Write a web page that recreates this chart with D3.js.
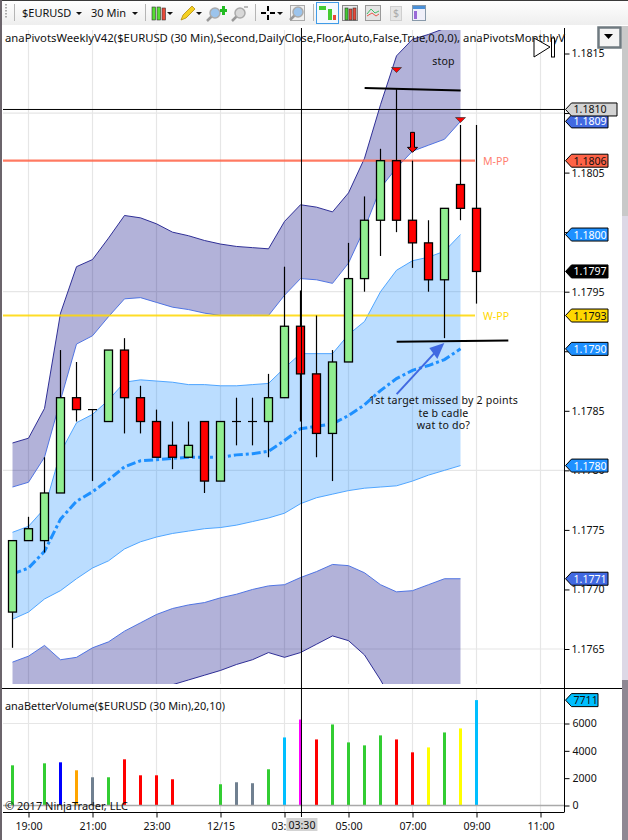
<!DOCTYPE html>
<html>
<head>
<meta charset="utf-8">
<style>
  body { margin: 0; background: #fff; }
  svg { display: block; }
  text { font-family: "Noto Sans", "Open Sans", sans-serif; font-size: 10.6px; fill: #111; }
</style>
<script src="https://cdn.jsdelivr.net/npm/d3@7"></script>
</head>
<body>
<div id="chart"></div>
<script>
/**
* DATA - one entry per 30 min bar, first bar is 18:30
* */
const opens = [1.17681,1.17741,1.17741,1.17781,1.17861,1.17851,1.17841,1.17901,1.17861,1.17841,1.17821,1.17811,1.17841,1.17791,1.17841,1.17841,1.17841,1.17861,1.17921,1.17881,1.17831,1.17891,1.17961,1.18010,1.18060,1.18010,1.17991,1.17960,1.18040,1.18020];
const highs = [1.17741,1.17761,1.17811,1.17901,1.17891,1.17851,1.17901,1.17911,1.17871,1.17851,1.17841,1.17841,1.17841,1.17841,1.17861,1.17861,1.17881,1.17971,1.17951,1.17930,1.17901,1.17991,1.18030,1.18070,1.18120,1.18060,1.18010,1.18020,1.18090,1.18090];
const lows = [1.17651,1.17741,1.17731,1.17781,1.17841,1.17791,1.17841,1.17831,1.17831,1.17811,1.17801,1.17811,1.17781,1.17791,1.17821,1.17821,1.17811,1.17861,1.17841,1.17811,1.17791,1.17891,1.17950,1.17980,1.18000,1.17970,1.17950,1.17911,1.18010,1.17940];
const closes = [1.17741,1.17751,1.17781,1.17861,1.17851,1.17851,1.17901,1.17861,1.17841,1.17811,1.17811,1.17821,1.17791,1.17841,1.17841,1.17841,1.17861,1.17921,1.17881,1.17831,1.17891,1.17961,1.18010,1.18060,1.18010,1.17991,1.17960,1.18020,1.18020,1.17967];

const upperOuter = [1.17823,1.17827,1.17852,1.17932,1.17971,1.17977,1.17995,1.18014,1.18012,1.18007,1.18000,1.17997,1.17993,1.17990,1.17988,1.17987,1.17986,1.18009,1.18023,1.18021,1.18017,1.18033,1.18062,1.18107,1.18148,1.18162,1.18166,1.18171,1.18174];
const upperInner = [1.17786,1.17790,1.17811,1.17859,1.17906,1.17913,1.17929,1.17944,1.17945,1.17941,1.17937,1.17935,1.17932,1.17930,1.17930,1.17930,1.17930,1.17947,1.17961,1.17960,1.17957,1.17974,1.18003,1.18037,1.18054,1.18068,1.18073,1.18078,1.18093];
const midTop = [1.17748,1.17753,1.17768,1.17815,1.17840,1.17847,1.17859,1.17874,1.17876,1.17875,1.17874,1.17872,1.17872,1.17871,1.17871,1.17872,1.17873,1.17886,1.17898,1.17898,1.17898,1.17914,1.17925,1.17950,1.17968,1.17976,1.17979,1.17984,1.17998];
const midBottom = [1.17675,1.17681,1.17692,1.17699,1.17709,1.17718,1.17724,1.17734,1.17740,1.17744,1.17747,1.17749,1.17751,1.17752,1.17754,1.17757,1.17760,1.17764,1.17772,1.17777,1.17780,1.17783,1.17785,1.17786,1.17787,1.17791,1.17796,1.17800,1.17804];
const midLine = [1.17713,1.17718,1.17732,1.17759,1.17774,1.17782,1.17792,1.17803,1.17808,1.17809,1.17810,1.17811,1.17811,1.17811,1.17813,1.17814,1.17816,1.17825,1.17835,1.17837,1.17839,1.17846,1.17855,1.17867,1.17877,1.17884,1.17888,1.17893,1.17902];
const lowerInner = [1.17639,1.17644,1.17653,1.17641,1.17643,1.17651,1.17656,1.17665,1.17672,1.17679,1.17684,1.17687,1.17689,1.17693,1.17696,1.17700,1.17703,1.17704,1.17710,1.17715,1.17721,1.17720,1.17714,1.17704,1.17698,1.17699,1.17704,1.17709,1.17709];
const lowerOuter = [1.17590,1.17590,1.17590,1.17590,1.17590,1.17595,1.17600,1.17603,1.17606,1.17611,1.17620,1.17624,1.17628,1.17632,1.17637,1.17641,1.17647,1.17643,1.17647,1.17654,1.17661,1.17657,1.17645,1.17624,1.17600,1.17590,1.17590,1.17590,1.17590];

const volumes = [2940,null,3086,3160,2576,2065,2065,3380,2210,2210,1920,null,null,1555,1700,1630,2650,4980,6290,4835,5930,4617,4400,5130,4835,3890,4250,5345,5640,7711];
const volumeKinds = ["green",null,"green","blue","orange","gray","green","red","red","red","red",null,null,"green","gray","gray","green","sky","magenta","red","green","green","green","green","red","red","yellow","green","yellow","sky"];

const timeTickBars = [1,5,9,13,17,21,25,29,33];
const timeTickLabels = ["19:00","21:00","23:00","12/15","03:00","05:00","07:00","09:00","11:00"];
const priceTicks = [1.1765,1.1770,1.1775,1.1780,1.1785,1.1790,1.1795,1.1800,1.1805,1.1810,1.1815];
const priceGrid = [1.1765,1.1780,1.1795,1.1810];
const volumeTicks = [0,2000,4000,6000];

const monthlyPivot = 1.18060, weeklyPivot = 1.17930;
const crossBar = 18.06, crossPrice = 1.18103;

//hand drawn stuff on the chart
const stopLine = [[22.01,1.18121],[28.01,1.18119]];
const targetLine = [[24.01,1.17908],[30.99,1.17909]];
const noteArrow = [[24.01,1.17864],[26.99,1.17907]];
const entryMarks = [[24,1.18134],[28,1.18092]];
const downArrow = [25,1.18067];
const notes = [
  {text:"stop", bar:27, price:1.18140},
  {text:"1st target missed by 2 points", bar:27, price:1.17856},
  {text:"te b cadle", bar:27, price:1.17845},
  {text:"wat to do?", bar:27, price:1.17835}
];

/**
* SCALES
* */
const width = 628, height = 840;
const axisX = 564.5;
const x = d3.scaleLinear().domain([0,34]).range([12.5,556.5]);
const y = d3.scaleLinear().domain([1.1765,1.1815]).range([649,53.5]);
const yVol = d3.scaleLinear().domain([0,6000]).range([805.5,723.5]);
const volumeColor = d3.scaleOrdinal()
  .domain(["green","red","blue","orange","gray","sky","magenta","yellow"])
  .range(["limegreen","red","blue","orange","slategray","deepskyblue","magenta","yellow"]);

const svg = d3.select("#chart").append("svg").attr("width",width).attr("height",height);
const defs = svg.append("defs");
const grad = defs.append("linearGradient").attr("id","bar").attr("x1",0).attr("x2",0).attr("y1",0).attr("y2",1);
grad.append("stop").attr("offset","0").attr("stop-color","#ffffff");
grad.append("stop").attr("offset","1").attr("stop-color","#eeeeee");
defs.append("clipPath").attr("id","panel").append("rect").attr("x",0).attr("y",30).attr("width",width).attr("height",654);

svg.append("rect").attr("width",width).attr("height",height).attr("fill","#fff");

/**
* GRID
* */
const grid = svg.append("g").attr("stroke","#e6e6e6").attr("stroke-width",1.2);
grid.selectAll(".v1").data(timeTickBars).enter().append("line")
  .attr("x1",d=>x(d)).attr("x2",d=>x(d)).attr("y1",30).attr("y2",684);
grid.selectAll(".v2").data(timeTickBars).enter().append("line")
  .attr("x1",d=>x(d)).attr("x2",d=>x(d)).attr("y1",689).attr("y2",812);
grid.selectAll(".h").data(priceGrid).enter().append("line")
  .attr("x1",3).attr("x2",axisX).attr("y1",d=>y(d)).attr("y2",d=>y(d));
grid.append("line").attr("x1",3).attr("x2",axisX).attr("y1",yVol(6000)).attr("y2",yVol(6000));

/**
* BANDS
* */
function band(top, bottom, fill, opacity) {
  const area = d3.area().x((d,i)=>x(i)).y0((d,i)=>y(bottom[i])).y1(d=>y(d));
  bands.append("path").attr("d",area(top)).attr("fill",fill).attr("fill-opacity",opacity);
}
function edge(values, color) {
  const line = d3.line().x((d,i)=>x(i)).y(d=>y(d));
  bands.append("path").attr("d",line(values)).attr("fill","none").attr("stroke",color).attr("stroke-width",0.9);
}
const bands = svg.append("g").attr("clip-path","url(#panel)");
band(upperOuter,upperInner,"navy",0.3);
band(midTop,midBottom,"dodgerblue",0.3);
band(lowerInner,lowerOuter,"navy",0.3);
edge(upperOuter,"#1c1c8c");
edge(upperInner,"royalblue");
edge(midTop,"#3f9dff");
edge(midBottom,"#3f9dff");
edge(lowerInner,"royalblue");
edge(lowerOuter,"#1c1c8c");

//pivots
svg.append("line").attr("x1",3).attr("x2",475).attr("y1",y(monthlyPivot)).attr("y2",y(monthlyPivot))
  .attr("stroke","tomato").attr("stroke-opacity",0.85).attr("stroke-width",2.2);
svg.append("line").attr("x1",3).attr("x2",475).attr("y1",y(weeklyPivot)).attr("y2",y(weeklyPivot))
  .attr("stroke","gold").attr("stroke-opacity",0.85).attr("stroke-width",2.2);
svg.append("text").attr("x",483).attr("y",y(monthlyPivot)+4).text("M-PP").style("fill","#ff7f70");
svg.append("text").attr("x",483).attr("y",y(weeklyPivot)+4).text("W-PP").style("fill","#ffd700");

//dash dot average
svg.append("path")
  .attr("d",d3.line().x((d,i)=>x(i)).y(d=>y(d))(midLine))
  .attr("fill","none").attr("stroke","dodgerblue").attr("stroke-width",3).attr("stroke-dasharray","9,3,3,3");

/**
* CANDLES
* */
const bars = d3.range(opens.length);
const candles = svg.append("g");
candles.selectAll(".wick").data(bars).enter().append("line")
  .attr("x1",i=>x(i)).attr("x2",i=>x(i))
  .attr("y1",i=>y(highs[i])).attr("y2",i=>y(lows[i]))
  .attr("stroke","#000").attr("stroke-width",1.2);
candles.selectAll(".body").data(bars.filter(i=>opens[i]!==closes[i])).enter().append("rect")
  .attr("x",i=>x(i)-4).attr("width",8)
  .attr("y",i=>y(Math.max(opens[i],closes[i])))
  .attr("height",i=>Math.abs(y(opens[i])-y(closes[i])))
  .attr("fill",i=>closes[i]>opens[i] ? "lightgreen" : "red")
  .attr("stroke","#000").attr("stroke-width",1.3);
candles.selectAll(".doji").data(bars.filter(i=>opens[i]===closes[i])).enter().append("line")
  .attr("x1",i=>x(i)-4.5).attr("x2",i=>x(i)+4.5)
  .attr("y1",i=>y(opens[i])).attr("y2",i=>y(opens[i]))
  .attr("stroke","#000").attr("stroke-width",1.2);

/**
* DRAWN OBJECTS
* */
function drawnLine(pts) {
  svg.append("line")
    .attr("x1",x(pts[0][0])).attr("y1",y(pts[0][1]))
    .attr("x2",x(pts[1][0])).attr("y2",y(pts[1][1]))
    .attr("stroke","#000").attr("stroke-width",2);
}
drawnLine(stopLine);
drawnLine(targetLine);

//blue note arrow
const tipX = x(noteArrow[1][0]), tipY = y(noteArrow[1][1]);
const tailX = x(noteArrow[0][0]), tailY = y(noteArrow[0][1]);
svg.append("line").attr("x1",tailX).attr("y1",tailY).attr("x2",tipX-6).attr("y2",tipY+6)
  .attr("stroke","royalblue").attr("stroke-width",2);
svg.append("path")
  .attr("d",`M${tipX},${tipY} L${tipX-15},${tipY+5} L${tipX-7},${tipY+16} Z`)
  .attr("fill","royalblue");

entryMarks.forEach(m => {
  const mx = x(m[0]), my = y(m[1]);
  svg.append("path").attr("d",`M${mx},${my} L${mx-5},${my-5} L${mx+5},${my-5} Z`)
    .attr("fill","red").attr("stroke","#333").attr("stroke-width",0.7);
});

//red down arrow
const ax = x(downArrow[0]), ay = y(downArrow[1]);
svg.append("path")
  .attr("d",`M${ax},${ay} L${ax-5},${ay-5} L${ax-2},${ay-5} L${ax-2},${ay-20} L${ax+2},${ay-20} L${ax+2},${ay-5} L${ax+5},${ay-5} Z`)
  .attr("fill","red").attr("stroke","#000").attr("stroke-width",1);

svg.selectAll(".note").data(notes).enter().append("text")
  .attr("x",d=>x(d.bar)-1).attr("y",d=>y(d.price)).attr("text-anchor","middle")
  .style("letter-spacing","0.2px").text(d=>d.text);

/**
* VOLUME
* */
svg.selectAll(".vol").data(bars.filter(i=>volumes[i]!==null)).enter().append("rect")
  .attr("x",i=>x(i)-1.5)
  .attr("width",3)
  .attr("y",i=>yVol(volumes[i]))
  .attr("height",i=>yVol(0)-yVol(volumes[i]))
  .attr("fill",i=>volumeColor(volumeKinds[i]));
svg.append("line").attr("x1",3).attr("x2",axisX).attr("y1",yVol(0)).attr("y2",yVol(0))
  .attr("stroke","#a9a9a9").attr("stroke-width",1.5);

/**
* FRAME AND AXES
* */
svg.append("line").attr("x1",axisX).attr("x2",axisX).attr("y1",28).attr("y2",812).attr("stroke","#000");
svg.append("line").attr("x1",1).attr("x2",622).attr("y1",688.5).attr("y2",688.5).attr("stroke","#000");
svg.append("line").attr("x1",3).attr("x2",axisX).attr("y1",812.5).attr("y2",812.5).attr("stroke","#000");

const priceAxis = svg.append("g").attr("transform",`translate(${axisX},0)`)
  .call(d3.axisRight(y).tickValues(priceTicks).tickFormat(d3.format(".4f")).tickSize(5).tickPadding(2));
const volAxis = svg.append("g").attr("transform",`translate(${axisX},0)`)
  .call(d3.axisRight(yVol).tickValues(volumeTicks).tickFormat(d3.format("d")).tickSize(5).tickPadding(3));
const timeAxis = svg.append("g").attr("transform","translate(0,812.5)")
  .call(d3.axisBottom(x).tickValues(timeTickBars).tickFormat((d,i)=>timeTickLabels[i]).tickSize(5).tickPadding(3));
[priceAxis,volAxis,timeAxis].forEach(a => {
  a.select(".domain").remove();
  a.selectAll("text").style("font-family",'"Noto Sans", sans-serif').style("font-size","10.6px").style("fill","#111");
  a.selectAll("line").attr("stroke","#000");
});
timeAxis.selectAll("text").attr("dy","0.9em");

//crosshair
svg.append("line").attr("x1",x(crossBar)).attr("x2",x(crossBar)).attr("y1",28).attr("y2",817).attr("stroke","#000");
svg.append("line").attr("x1",3).attr("x2",axisX).attr("y1",y(crossPrice)).attr("y2",y(crossPrice)).attr("stroke","#000");
svg.append("rect").attr("x",x(crossBar)-15).attr("y",818).attr("width",31).attr("height",13).attr("fill","#d3d3d3");
svg.append("text").attr("x",x(crossBar)+0.5).attr("y",829).attr("text-anchor","middle").text("03:30");

//value flags on the axis
function flag(cy, label, fill, color, x1) {
  const x0 = 565.5;
  svg.append("path")
    .attr("d",`M${x0},${cy} L${x0+6},${cy-6.5} L${x1},${cy-6.5} L${x1},${cy+6.5} L${x0+6},${cy+6.5} Z`)
    .attr("fill",fill).attr("stroke","#000");
  svg.append("text").attr("x",x0+8).attr("y",cy+4).text(label).style("fill",color);
}
const fmt = d3.format(".4f");
const last = a => a[a.length-1];
flag(y(last(upperInner)),fmt(last(upperInner)),"royalblue","#fff",608);
flag(y(monthlyPivot),fmt(monthlyPivot),"tomato","#111",608);
flag(y(last(midTop)),fmt(last(midTop)),"dodgerblue","#fff",608);
flag(y(last(closes)),fmt(last(closes)),"#000","#fff",608);
flag(y(weeklyPivot),fmt(weeklyPivot),"gold","#111",608);
flag(y(last(midLine)),fmt(last(midLine)),"dodgerblue","#fff",608);
flag(y(last(midBottom)),fmt(last(midBottom)),"dodgerblue","#fff",608);
flag(y(last(lowerInner)),fmt(last(lowerInner)),"royalblue","#fff",608);
flag(y(crossPrice),fmt(crossPrice),"#d3d3d3","#111",617);
flag(yVol(d3.max(volumes)),d3.max(volumes),"deepskyblue","#111",598);

/**
* TITLES
* */
svg.append("text").attr("x",5).attr("y",42).text("anaPivotsWeeklyV42($EURUSD (30 Min),Second,DailyClose,Floor,Auto,False,True,0,0,0), anaPivotsMonthlyV")
  .attr("textLength",560).attr("lengthAdjust","spacingAndGlyphs");
svg.append("text").attr("x",5).attr("y",710).text("anaBetterVolume($EURUSD (30 Min),20,10)")
  .attr("textLength",220).attr("lengthAdjust","spacingAndGlyphs");
svg.append("text").attr("x",5).attr("y",810).text("© 2017 NinjaTrader, LLC").style("font-size","11px");

//little play button thing
svg.append("path").attr("d","M534,38 L550,47 L534,57 Z").attr("fill","#fff").attr("stroke","#000");
svg.append("rect").attr("x",551.5).attr("y",38).attr("width",3).attr("height",19).attr("fill","#fff").attr("stroke","#000");

//chart dropdown button
svg.append("rect").attr("x",598.5).attr("y",27.5).attr("width",22).attr("height",20).attr("fill","#f4f4f4").attr("stroke","#6f7a80").attr("stroke-width",2.5);
svg.append("path").attr("d","M604,34 L613,34 L608.5,39 Z").attr("fill","#000");

//window edges
svg.append("rect").attr("x",0).attr("y",0).attr("width",2).attr("height",height).attr("fill","#6b646b");
svg.append("rect").attr("x",622).attr("y",26).attr("width",6).attr("height",190).attr("fill","#c9c9c9");
svg.append("rect").attr("x",622).attr("y",216).attr("width",6).attr("height",464).attr("fill","#ddd8e6");
svg.append("rect").attr("x",622).attr("y",680).attr("width",6).attr("height",160).attr("fill","#8f8893");

/**
* TOOLBAR
* */
const bar = svg.append("g");
bar.append("rect").attr("width",width).attr("height",25).attr("fill","url(#bar)");
bar.append("rect").attr("width",width).attr("height",1).attr("fill","#3a3a3a");
bar.append("rect").attr("width",2).attr("height",25).attr("fill","#6b646b");

function sep(px) { bar.append("line").attr("x1",px).attr("x2",px).attr("y1",4).attr("y2",21).attr("stroke","#b5b5b5"); }
function caret(px) { bar.append("path").attr("d",`M${px-3},12 L${px+3},12 L${px},15 Z`).attr("fill","#111"); }
function candleIcon(px, w, h, fill) { bar.append("rect").attr("x",px).attr("y",h).attr("width",w).attr("height",20-h).attr("fill",fill).attr("stroke","#333").attr("stroke-width",0.6); }
function lens(cx, cy, color) {
  bar.append("line").attr("x1",cx-3).attr("y1",cy+3).attr("x2",cx-8).attr("y2",cy+8).attr("stroke","#999").attr("stroke-width",2.5);
  bar.append("circle").attr("cx",cx).attr("cy",cy).attr("r",5).attr("fill",color).attr("stroke","#aaa").attr("stroke-width",1.5);
}

[4,7,10,13,16].forEach(d => bar.append("rect").attr("x",5).attr("y",d).attr("width",2).attr("height",1.5).attr("fill","#aaa"));
sep(14.5);
bar.append("text").attr("x",22).attr("y",17).text("$EURUSD").style("font-size","11px");
caret(79);
bar.append("text").attr("x",91).attr("y",17).text("30 Min").style("font-size","11px");
caret(135);
sep(145.5);
candleIcon(152,3.5,7,"#55dd33"); candleIcon(157,3.5,7,"#55dd33"); candleIcon(162,3.5,8,"#e84a3a");
caret(170);
bar.append("path").attr("d","M181,20 L183,15 L192,6 L195,9 L186,18 Z").attr("fill","#f5d020").attr("stroke","#b08a10").attr("stroke-width",0.8);
caret(199);
lens(215,13,"#9cc4ec");
bar.append("path").attr("d","M220,9 h2 v-3 h3 v3 h2 v3 h-2 v3 h-3 v-3 h-2 Z").attr("fill","#22bb22");
lens(240,13,"#d8d8d8");
bar.append("line").attr("x1",244).attr("y1",7).attr("x2",248).attr("y2",7).attr("stroke","#bbb").attr("stroke-width",2);
sep(255.5);
bar.append("path").attr("d","M261,13 h5 M270,13 h5 M268,6 v5 M268,15 v5").attr("stroke","#000").attr("stroke-width",2);
caret(280);
bar.append("rect").attr("x",290.5).attr("y",5.5).attr("width",14).attr("height",15).attr("fill","#f0f0f0").attr("stroke","#aaa");
lens(298,12,"#9cc4ec");
sep(313.5);
bar.append("rect").attr("x",316.5).attr("y",2.5).attr("width",22).attr("height",21).attr("fill","#f4f9fe").attr("stroke","#3f9be8");
bar.append("rect").attr("x",319).attr("y",6).attr("width",7).attr("height",4).attr("fill","#44cc33");
bar.append("rect").attr("x",328).attr("y",9).attr("width",4).attr("height",11).attr("fill","#44cc33");
bar.append("rect").attr("x",333).attr("y",15).attr("width",3).attr("height",5).attr("fill","#e84a3a");
bar.append("rect").attr("x",342.5).attr("y",5.5).attr("width",15).attr("height",15).attr("fill","#e8e8e8").attr("stroke","#888");
candleIcon(345,3,8,"#44cc33"); candleIcon(349,3,9,"#e84a3a"); candleIcon(353,3,8,"#e84a3a");
bar.append("rect").attr("x",365.5).attr("y",5.5).attr("width",15).attr("height",15).attr("fill","#e4e4e4").attr("stroke","#999");
bar.append("path").attr("d","M367,14 L371,9 L375,13 L379,11").attr("fill","none").attr("stroke","#44bb66");
bar.append("path").attr("d","M367,16 L372,13 L376,16 L379,14").attr("fill","none").attr("stroke","#e85a4a");
bar.append("rect").attr("x",390.5).attr("y",6.5).attr("width",11).attr("height",14).attr("fill","#e6e6e6").attr("stroke","#cfcfcf");
bar.append("text").attr("x",393).attr("y",17).text("$").style("fill","#aaa");
bar.append("rect").attr("x",412.5).attr("y",5.5).attr("width",13).attr("height",15).attr("fill","#f0f0fa").attr("stroke","#8899aa");
bar.append("rect").attr("x",413).attr("y",6).attr("width",12).attr("height",3).attr("fill","#4a90d8");
bar.append("rect").attr("x",414).attr("y",11).attr("width",3).attr("height",8).attr("fill","#9a6ad8");
</script>
</body>
</html>
